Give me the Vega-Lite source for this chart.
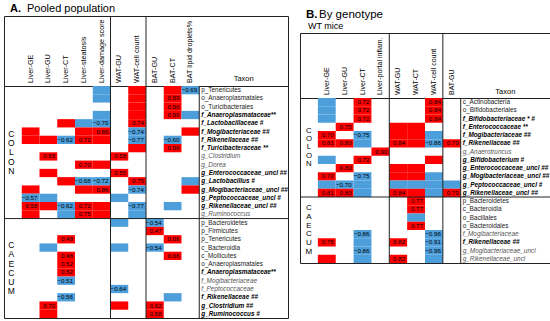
{
  "$schema": "https://vega.github.io/schema/vega-lite/v6.json",
  "padding": {"left": 3, "top": 0, "right": 0, "bottom": 0},
  "background": "white",
  "config": {"view": {"stroke": null}, "text": {"font": "Liberation Sans"}},
  "spacing": 10,
  "datasets": {
    "colsA": [
      {"v": "GE", "name": "Liver-GE"}, {"v": "GU", "name": "Liver-GU"}, {"v": "CT", "name": "Liver-CT"},
      {"v": "ST", "name": "Liver-steatosis"}, {"v": "DS", "name": "Liver-damage score"}, {"v": "WG", "name": "WAT-GU"},
      {"v": "WC", "name": "WAT-cell count"}, {"v": "BG", "name": "BAT-GU"}, {"v": "BC", "name": "BAT-CT"},
      {"v": "BL", "name": "BAT lipid droplets%"}
    ],
    "colsB": [
      {"v": "GE", "name": "Liver-GE"}, {"v": "GU", "name": "Liver-GU"}, {"v": "CT", "name": "Liver-CT"},
      {"v": "PI", "name": "Liver-portal inflam."}, {"v": "WG", "name": "WAT-GU"}, {"v": "WT", "name": "WAT-CT"},
      {"v": "WC", "name": "WAT-cell count"}, {"v": "BG", "name": "BAT-GU"}
    ],
    "rowsA": [
      {"k": "C01", "taxon": "p_Tenericutes", "st": "n"},
      {"k": "C02", "taxon": "o_Anaeroplasmatales", "st": "n"},
      {"k": "C03", "taxon": "o_Turicibacterales", "st": "n"},
      {"k": "C04", "taxon": "f_Anaeroplasmataceae**", "st": "b"},
      {"k": "C05", "taxon": "f_Lactobacillaceae #", "st": "b"},
      {"k": "C06", "taxon": "f_Mogibacteriaceae ##", "st": "b"},
      {"k": "C07", "taxon": "f_Rikenellaceae ##", "st": "b"},
      {"k": "C08", "taxon": "f_Turicibacteraceae **", "st": "b"},
      {"k": "C09", "taxon": "g_Clostridium", "st": "i"},
      {"k": "C10", "taxon": "g_Dorea", "st": "i"},
      {"k": "C11", "taxon": "g_Enterococcaceae_uncl ##", "st": "b"},
      {"k": "C12", "taxon": "g_Lactobacillus #", "st": "b"},
      {"k": "C13", "taxon": "g_Mogibacteriaceae_uncl ##", "st": "b"},
      {"k": "C14", "taxon": "g_Peptococcaceae_uncl #", "st": "b"},
      {"k": "C15", "taxon": "g_Rikenellaceae_uncl ##", "st": "b"},
      {"k": "C16", "taxon": "g_Ruminococcus", "st": "i"},
      {"k": "K01", "taxon": "p_Bacteroidetes", "st": "n"},
      {"k": "K02", "taxon": "p_Firmicutes", "st": "n"},
      {"k": "K03", "taxon": "p_Tenericutes", "st": "n"},
      {"k": "K04", "taxon": "c_Bacteroidia", "st": "n"},
      {"k": "K05", "taxon": "c_Mollicutes", "st": "n"},
      {"k": "K06", "taxon": "o_Anaeroplasmatales", "st": "n"},
      {"k": "K07", "taxon": "f_Anaeroplasmataceae**", "st": "b"},
      {"k": "K08", "taxon": "f_Mogibacteriaceae", "st": "i"},
      {"k": "K09", "taxon": "f_Peptococcaceae", "st": "i"},
      {"k": "K10", "taxon": "f_Rikenellaceae ##", "st": "b"},
      {"k": "K11", "taxon": "g_Clostridium ##", "st": "b"},
      {"k": "K12", "taxon": "g_Ruminococcus #", "st": "b"}
    ],
    "rowsB": [
      {"k": "C01", "taxon": "c_Actinobacteria", "st": "n"},
      {"k": "C02", "taxon": "o_Bifidobacteriales", "st": "n"},
      {"k": "C03", "taxon": "f_Bifidobacteriaceae * #", "st": "b"},
      {"k": "C04", "taxon": "f_Enterococcaceae **", "st": "b"},
      {"k": "C05", "taxon": "f_Mogibacteriaceae ##", "st": "b"},
      {"k": "C06", "taxon": "f_Rikenellaceae ##", "st": "b"},
      {"k": "C07", "taxon": "g_Anaerotruncus", "st": "i"},
      {"k": "C08", "taxon": "g_Bifidobacterium #", "st": "b"},
      {"k": "C09", "taxon": "g_Enterococcaceae_uncl ##", "st": "b"},
      {"k": "C10", "taxon": "g_Mogibacteriaceae_uncl ##", "st": "b"},
      {"k": "C11", "taxon": "g_Peptococcaceae_uncl #", "st": "b"},
      {"k": "C12", "taxon": "g_Rikenellaceae_uncl ##", "st": "b"},
      {"k": "K01", "taxon": "p_Bacteroidetes", "st": "n"},
      {"k": "K02", "taxon": "c_Bacteroidia", "st": "n"},
      {"k": "K03", "taxon": "o_Bacillales", "st": "n"},
      {"k": "K04", "taxon": "o_Bacteroidales", "st": "n"},
      {"k": "K05", "taxon": "f_Mogibacteriaceae", "st": "i"},
      {"k": "K06", "taxon": "f_Rikenellaceae ##", "st": "b"},
      {"k": "K07", "taxon": "g_Mogibacteriaceae_uncl", "st": "i"},
      {"k": "K08", "taxon": "g_Rikenellaceae_uncl", "st": "i"}
    ],
    "secA": [
      {"sec": "COLON", "mid": "C09", "txt": "C\nO\nL\nO\nN"},
      {"sec": "CAECUM", "mid": "K07", "txt": "C\nA\nE\nC\nU\nM"}
    ],
    "secB": [
      {"sec": "COLON", "mid": "C07", "txt": "C\nO\nL\nO\nN"},
      {"sec": "CAECUM", "mid": "K05", "txt": "C\nA\nE\nC\nU\nM"}
    ],
    "cellsA": [
      {"k": "C01", "v": "DS", "s": "-"}, {"k": "C01", "v": "WC", "s": "+"}, {"k": "C01", "v": "BC", "s": "+"}, {"k": "C01", "v": "BL", "s": "-", "r": -0.69},
      {"k": "C02", "v": "DS", "s": "-"}, {"k": "C02", "v": "WC", "s": "+"}, {"k": "C02", "v": "BC", "s": "+", "r": 0.59},
      {"k": "C03", "v": "WC", "s": "+"}, {"k": "C03", "v": "BC", "s": "+", "r": 0.56},
      {"k": "C04", "v": "DS", "s": "-"}, {"k": "C04", "v": "WC", "s": "+"}, {"k": "C04", "v": "BC", "s": "+", "r": 0.59}, {"k": "C04", "v": "BL", "s": "-"},
      {"k": "C05", "v": "CT", "s": "+"}, {"k": "C05", "v": "ST", "s": "-"}, {"k": "C05", "v": "DS", "s": "-", "r": -0.70}, {"k": "C05", "v": "WC", "s": "+", "r": 0.74},
      {"k": "C06", "v": "GE", "s": "+"}, {"k": "C06", "v": "ST", "s": "+"}, {"k": "C06", "v": "DS", "s": "+", "r": 0.86}, {"k": "C06", "v": "WC", "s": "-", "r": -0.74}, {"k": "C06", "v": "BL", "s": "+"},
      {"k": "C07", "v": "GE", "s": "+"}, {"k": "C07", "v": "GU", "s": "+"}, {"k": "C07", "v": "CT", "s": "-", "r": -0.62}, {"k": "C07", "v": "ST", "s": "+", "r": 0.72}, {"k": "C07", "v": "DS", "s": "+"}, {"k": "C07", "v": "WC", "s": "-", "r": -0.77}, {"k": "C07", "v": "BC", "s": "-", "r": -0.60},
      {"k": "C08", "v": "WC", "s": "+"}, {"k": "C08", "v": "BC", "s": "+", "r": 0.56},
      {"k": "C09", "v": "GU", "s": "+", "r": 0.65}, {"k": "C09", "v": "WG", "s": "+", "r": 0.58},
      {"k": "C10", "v": "ST", "s": "+", "r": 0.70}, {"k": "C10", "v": "DS", "s": "+"},
      {"k": "C11", "v": "GU", "s": "+"}, {"k": "C11", "v": "WG", "s": "+", "r": 0.55},
      {"k": "C12", "v": "CT", "s": "+"}, {"k": "C12", "v": "ST", "s": "-", "r": -0.68}, {"k": "C12", "v": "DS", "s": "-", "r": -0.72}, {"k": "C12", "v": "WC", "s": "+", "r": 0.75}, {"k": "C12", "v": "BL", "s": "-"},
      {"k": "C13", "v": "GE", "s": "+"}, {"k": "C13", "v": "ST", "s": "+"}, {"k": "C13", "v": "DS", "s": "+", "r": 0.86}, {"k": "C13", "v": "WC", "s": "-", "r": -0.74}, {"k": "C13", "v": "BL", "s": "+"},
      {"k": "C14", "v": "GE", "s": "-", "r": -0.57}, {"k": "C14", "v": "GU", "s": "-"}, {"k": "C14", "v": "WG", "s": "-"},
      {"k": "C15", "v": "GE", "s": "+", "r": 0.58}, {"k": "C15", "v": "GU", "s": "+"}, {"k": "C15", "v": "CT", "s": "-", "r": -0.62}, {"k": "C15", "v": "ST", "s": "+", "r": 0.72}, {"k": "C15", "v": "DS", "s": "+"}, {"k": "C15", "v": "WC", "s": "-", "r": -0.77}, {"k": "C15", "v": "BC", "s": "-"},
      {"k": "C16", "v": "GE", "s": "+"}, {"k": "C16", "v": "CT", "s": "-"}, {"k": "C16", "v": "ST", "s": "+", "r": 0.75}, {"k": "C16", "v": "DS", "s": "+"}, {"k": "C16", "v": "WC", "s": "-"},
      {"k": "K01", "v": "WG", "s": "-"}, {"k": "K01", "v": "BG", "s": "-", "r": -0.54},
      {"k": "K02", "v": "BG", "s": "+", "r": 0.47},
      {"k": "K03", "v": "CT", "s": "+", "r": 0.48}, {"k": "K03", "v": "BC", "s": "+", "r": 0.66},
      {"k": "K04", "v": "GU", "s": "-"}, {"k": "K04", "v": "WG", "s": "-"}, {"k": "K04", "v": "BG", "s": "-", "r": -0.54},
      {"k": "K05", "v": "CT", "s": "+", "r": 0.48}, {"k": "K05", "v": "BC", "s": "+", "r": 0.66},
      {"k": "K06", "v": "CT", "s": "+", "r": 0.52},
      {"k": "K07", "v": "CT", "s": "+", "r": 0.52},
      {"k": "K08", "v": "CT", "s": "-", "r": -0.51},
      {"k": "K09", "v": "WG", "s": "-", "r": -0.64},
      {"k": "K10", "v": "CT", "s": "-", "r": -0.56}, {"k": "K10", "v": "BC", "s": "-"},
      {"k": "K11", "v": "GU", "s": "+", "r": 0.70}, {"k": "K11", "v": "WG", "s": "+"}, {"k": "K11", "v": "BG", "s": "+", "r": 0.62},
      {"k": "K12", "v": "GU", "s": "+"}, {"k": "K12", "v": "BG", "s": "+", "r": 0.58}
    ],
    "cellsB": [
      {"k": "C01", "v": "GE", "s": "-"}, {"k": "C01", "v": "CT", "s": "+", "r": 0.72}, {"k": "C01", "v": "WC", "s": "+", "r": 0.84},
      {"k": "C02", "v": "GE", "s": "-"}, {"k": "C02", "v": "CT", "s": "+", "r": 0.72}, {"k": "C02", "v": "WC", "s": "+", "r": 0.84},
      {"k": "C03", "v": "GE", "s": "-"}, {"k": "C03", "v": "CT", "s": "+", "r": 0.72}, {"k": "C03", "v": "WC", "s": "+", "r": 0.84},
      {"k": "C04", "v": "GU", "s": "+", "r": 0.75}, {"k": "C04", "v": "WG", "s": "+"}, {"k": "C04", "v": "WT", "s": "+"},
      {"k": "C05", "v": "GE", "s": "+", "r": 0.70}, {"k": "C05", "v": "CT", "s": "-", "r": -0.75}, {"k": "C05", "v": "WG", "s": "+"}, {"k": "C05", "v": "WT", "s": "+"}, {"k": "C05", "v": "WC", "s": "-"},
      {"k": "C06", "v": "GE", "s": "+", "r": 0.81}, {"k": "C06", "v": "GU", "s": "+", "r": 0.80}, {"k": "C06", "v": "CT", "s": "-"}, {"k": "C06", "v": "WG", "s": "+", "r": 0.84}, {"k": "C06", "v": "WT", "s": "+"}, {"k": "C06", "v": "WC", "s": "-", "r": -0.86}, {"k": "C06", "v": "BG", "s": "+", "r": 0.79},
      {"k": "C07", "v": "PI", "s": "+", "r": 0.90},
      {"k": "C08", "v": "GE", "s": "-"}, {"k": "C08", "v": "CT", "s": "+", "r": 0.72}, {"k": "C08", "v": "WC", "s": "+"},
      {"k": "C09", "v": "GU", "s": "+", "r": 0.80}, {"k": "C09", "v": "WG", "s": "+"}, {"k": "C09", "v": "WT", "s": "+"},
      {"k": "C10", "v": "GE", "s": "+", "r": 0.70}, {"k": "C10", "v": "CT", "s": "-", "r": -0.75}, {"k": "C10", "v": "WG", "s": "+"}, {"k": "C10", "v": "WT", "s": "+"}, {"k": "C10", "v": "WC", "s": "-"},
      {"k": "C11", "v": "GE", "s": "-"}, {"k": "C11", "v": "GU", "s": "-", "r": -0.70}, {"k": "C11", "v": "CT", "s": "-"}, {"k": "C11", "v": "WG", "s": "-"}, {"k": "C11", "v": "WT", "s": "-"}, {"k": "C11", "v": "WC", "s": "-"}, {"k": "C11", "v": "BG", "s": "-"},
      {"k": "C12", "v": "GE", "s": "+", "r": 0.81}, {"k": "C12", "v": "GU", "s": "+", "r": 0.80}, {"k": "C12", "v": "CT", "s": "-"}, {"k": "C12", "v": "WG", "s": "+", "r": 0.84}, {"k": "C12", "v": "WT", "s": "+"}, {"k": "C12", "v": "WC", "s": "-"}, {"k": "C12", "v": "BG", "s": "+", "r": 0.79},
      {"k": "K01", "v": "WT", "s": "+", "r": 0.77},
      {"k": "K02", "v": "WT", "s": "+", "r": 0.77},
      {"k": "K03", "v": "WT", "s": "-"},
      {"k": "K04", "v": "WT", "s": "+", "r": 0.77},
      {"k": "K05", "v": "CT", "s": "-", "r": -0.86}, {"k": "K05", "v": "WC", "s": "-", "r": -0.96},
      {"k": "K06", "v": "GE", "s": "+", "r": 0.75}, {"k": "K06", "v": "CT", "s": "-"}, {"k": "K06", "v": "WG", "s": "+", "r": 0.82}, {"k": "K06", "v": "WC", "s": "-", "r": -0.91},
      {"k": "K07", "v": "CT", "s": "-", "r": -0.86}, {"k": "K07", "v": "WC", "s": "-", "r": -0.96},
      {"k": "K08", "v": "GE", "s": "+"}, {"k": "K08", "v": "CT", "s": "-"}, {"k": "K08", "v": "WG", "s": "+", "r": 0.82}, {"k": "K08", "v": "WC", "s": "-"}
    ]
  },
  "hconcat": [
    {
      "vconcat": [
        {
          "width": 284, "height": 16,
          "data": {"values": [{"a": "A.", "b": "Pooled population"}]},
          "layer": [
            {"mark": {"type": "text", "align": "left", "baseline": "middle", "fontWeight": "bold", "fontSize": 11, "dx": 6, "dy": 1},
             "encoding": {"x": {"datum": 0, "type": "quantitative", "scale": {"domain": [0, 1]}, "axis": null}, "text": {"field": "a"}}},
            {"mark": {"type": "text", "align": "left", "baseline": "middle", "fontSize": 11, "dx": 23, "dy": 1},
             "encoding": {"x": {"datum": 0, "type": "quantitative", "scale": {"domain": [0, 1]}, "axis": null}, "text": {"field": "b"}}}
          ]
        },
        {
          "width": 284, "height": 70,
          "view": {"stroke": "#222"},
          "layer": [
            {"data": {"name": "colsA"},
             "mark": {"type": "text", "angle": 270, "align": "left", "baseline": "middle", "fontSize": 7.2, "dx": 3},
             "encoding": {
               "x": {"field": "v", "type": "nominal", "axis": null, "scale": {"type": "band", "domain": ["sec", "GE", "GU", "CT", "ST", "DS", "WG", "WC", "BG", "BC", "BL", "T1", "T2", "T3", "T4", "T5"], "paddingInner": 0, "paddingOuter": 0}},
               "y": {"datum": 0, "type": "quantitative", "scale": {"domain": [0, 1]}, "axis": null},
               "text": {"field": "name"}}},
            {"data": {"values": [{"t": "Taxon"}]},
             "mark": {"type": "text", "align": "center", "baseline": "bottom", "fontSize": 7.5, "dy": -3},
             "encoding": {
               "x": {"datum": "T3", "type": "nominal", "axis": null, "scale": {"type": "band", "domain": ["sec", "GE", "GU", "CT", "ST", "DS", "WG", "WC", "BG", "BC", "BL", "T1", "T2", "T3", "T4", "T5"], "paddingInner": 0, "paddingOuter": 0}},
               "y": {"datum": 0, "type": "quantitative", "scale": {"domain": [0, 1]}, "axis": null},
               "text": {"field": "t"}}},
            {"data": {"values": [{"b": "WG"}, {"b": "BG"}]},
             "mark": {"type": "rule", "color": "#222", "strokeWidth": 1},
             "encoding": {
               "x": {"field": "b", "type": "nominal", "bandPosition": 0, "axis": null, "scale": {"type": "band", "domain": ["sec", "GE", "GU", "CT", "ST", "DS", "WG", "WC", "BG", "BC", "BL", "T1", "T2", "T3", "T4", "T5"], "paddingInner": 0, "paddingOuter": 0}}}}
          ]
        },
        {
          "width": 284, "height": 232,
          "view": {"stroke": "#222"},
          "layer": [
            {"data": {"name": "cellsA"},
             "mark": {"type": "rect"},
             "encoding": {
               "x": {"field": "v", "type": "nominal", "axis": null, "scale": {"type": "band", "domain": ["sec", "GE", "GU", "CT", "ST", "DS", "WG", "WC", "BG", "BC", "BL", "T1", "T2", "T3", "T4", "T5"], "paddingInner": 0, "paddingOuter": 0}},
               "y": {"field": "k", "type": "nominal", "axis": null, "scale": {"type": "band", "domain": ["C01", "C02", "C03", "C04", "C05", "C06", "C07", "C08", "C09", "C10", "C11", "C12", "C13", "C14", "C15", "C16", "K01", "K02", "K03", "K04", "K05", "K06", "K07", "K08", "K09", "K10", "K11", "K12"], "paddingInner": 0, "paddingOuter": 0}},
               "color": {"field": "s", "type": "nominal", "legend": null, "scale": {"domain": ["+", "-"], "range": ["#ff0000", "#4d9fdc"]}}}},
            {"data": {"name": "cellsA"},
             "transform": [{"filter": "isValid(datum.r)"}],
             "mark": {"type": "text", "align": "right", "baseline": "middle", "fontSize": 6.2, "dx": -2, "color": "#000"},
             "encoding": {
               "x": {"field": "v", "type": "nominal", "bandPosition": 1, "axis": null, "scale": {"type": "band", "domain": ["sec", "GE", "GU", "CT", "ST", "DS", "WG", "WC", "BG", "BC", "BL", "T1", "T2", "T3", "T4", "T5"], "paddingInner": 0, "paddingOuter": 0}},
               "y": {"field": "k", "type": "nominal", "axis": null, "scale": {"type": "band", "domain": ["C01", "C02", "C03", "C04", "C05", "C06", "C07", "C08", "C09", "C10", "C11", "C12", "C13", "C14", "C15", "C16", "K01", "K02", "K03", "K04", "K05", "K06", "K07", "K08", "K09", "K10", "K11", "K12"], "paddingInner": 0, "paddingOuter": 0}},
               "text": {"field": "r", "type": "quantitative", "format": ".2f"}}},
            {"data": {"name": "rowsA"},
             "transform": [{"filter": "datum.st == 'n'"}],
             "mark": {"type": "text", "align": "left", "baseline": "middle", "fontSize": 6.4, "dx": 2, "color": "#222"},
             "encoding": {
               "x": {"datum": "T1", "type": "nominal", "bandPosition": 0, "axis": null, "scale": {"type": "band", "domain": ["sec", "GE", "GU", "CT", "ST", "DS", "WG", "WC", "BG", "BC", "BL", "T1", "T2", "T3", "T4", "T5"], "paddingInner": 0, "paddingOuter": 0}},
               "y": {"field": "k", "type": "nominal", "axis": null, "scale": {"type": "band", "domain": ["C01", "C02", "C03", "C04", "C05", "C06", "C07", "C08", "C09", "C10", "C11", "C12", "C13", "C14", "C15", "C16", "K01", "K02", "K03", "K04", "K05", "K06", "K07", "K08", "K09", "K10", "K11", "K12"], "paddingInner": 0, "paddingOuter": 0}},
               "text": {"field": "taxon"}}},
            {"data": {"name": "rowsA"},
             "transform": [{"filter": "datum.st == 'i'"}],
             "mark": {"type": "text", "align": "left", "baseline": "middle", "fontSize": 6.4, "dx": 2, "fontStyle": "italic", "color": "#555"},
             "encoding": {
               "x": {"datum": "T1", "type": "nominal", "bandPosition": 0, "axis": null, "scale": {"type": "band", "domain": ["sec", "GE", "GU", "CT", "ST", "DS", "WG", "WC", "BG", "BC", "BL", "T1", "T2", "T3", "T4", "T5"], "paddingInner": 0, "paddingOuter": 0}},
               "y": {"field": "k", "type": "nominal", "axis": null, "scale": {"type": "band", "domain": ["C01", "C02", "C03", "C04", "C05", "C06", "C07", "C08", "C09", "C10", "C11", "C12", "C13", "C14", "C15", "C16", "K01", "K02", "K03", "K04", "K05", "K06", "K07", "K08", "K09", "K10", "K11", "K12"], "paddingInner": 0, "paddingOuter": 0}},
               "text": {"field": "taxon"}}},
            {"data": {"name": "rowsA"},
             "transform": [{"filter": "datum.st == 'b'"}],
             "mark": {"type": "text", "align": "left", "baseline": "middle", "fontSize": 6.4, "dx": 2, "fontStyle": "italic", "fontWeight": "bold", "color": "#000"},
             "encoding": {
               "x": {"datum": "T1", "type": "nominal", "bandPosition": 0, "axis": null, "scale": {"type": "band", "domain": ["sec", "GE", "GU", "CT", "ST", "DS", "WG", "WC", "BG", "BC", "BL", "T1", "T2", "T3", "T4", "T5"], "paddingInner": 0, "paddingOuter": 0}},
               "y": {"field": "k", "type": "nominal", "axis": null, "scale": {"type": "band", "domain": ["C01", "C02", "C03", "C04", "C05", "C06", "C07", "C08", "C09", "C10", "C11", "C12", "C13", "C14", "C15", "C16", "K01", "K02", "K03", "K04", "K05", "K06", "K07", "K08", "K09", "K10", "K11", "K12"], "paddingInner": 0, "paddingOuter": 0}},
               "text": {"field": "taxon"}}},
            {"data": {"name": "secA"},
             "transform": [{"filter": "datum.sec == 'COLON'"}],
             "mark": {"type": "text", "align": "center", "baseline": "middle", "fontSize": 8.5, "lineHeight": 9.3, "lineBreak": "\n", "color": "#000", "dy": -18.6, "dx": -1.5},
             "encoding": {
               "x": {"datum": "sec", "type": "nominal", "axis": null, "scale": {"type": "band", "domain": ["sec", "GE", "GU", "CT", "ST", "DS", "WG", "WC", "BG", "BC", "BL", "T1", "T2", "T3", "T4", "T5"], "paddingInner": 0, "paddingOuter": 0}},
               "y": {"field": "mid", "type": "nominal", "bandPosition": 0, "axis": null, "scale": {"type": "band", "domain": ["C01", "C02", "C03", "C04", "C05", "C06", "C07", "C08", "C09", "C10", "C11", "C12", "C13", "C14", "C15", "C16", "K01", "K02", "K03", "K04", "K05", "K06", "K07", "K08", "K09", "K10", "K11", "K12"], "paddingInner": 0, "paddingOuter": 0}},
               "text": {"field": "txt"}}},
            {"data": {"name": "secA"},
             "transform": [{"filter": "datum.sec == 'CAECUM'"}],
             "mark": {"type": "text", "align": "center", "baseline": "middle", "fontSize": 8.5, "lineHeight": 9.2, "lineBreak": "\n", "color": "#000", "dy": -23, "dx": -1.5},
             "encoding": {
               "x": {"datum": "sec", "type": "nominal", "axis": null, "scale": {"type": "band", "domain": ["sec", "GE", "GU", "CT", "ST", "DS", "WG", "WC", "BG", "BC", "BL", "T1", "T2", "T3", "T4", "T5"], "paddingInner": 0, "paddingOuter": 0}},
               "y": {"field": "mid", "type": "nominal", "bandPosition": 0, "axis": null, "scale": {"type": "band", "domain": ["C01", "C02", "C03", "C04", "C05", "C06", "C07", "C08", "C09", "C10", "C11", "C12", "C13", "C14", "C15", "C16", "K01", "K02", "K03", "K04", "K05", "K06", "K07", "K08", "K09", "K10", "K11", "K12"], "paddingInner": 0, "paddingOuter": 0}},
               "text": {"field": "txt"}}},
            {"data": {"values": [{"b": "WG"}, {"b": "BG"}, {"b": "T1"}]},
             "mark": {"type": "rule", "color": "#222", "strokeWidth": 1},
             "encoding": {
               "x": {"field": "b", "type": "nominal", "bandPosition": 0, "axis": null, "scale": {"type": "band", "domain": ["sec", "GE", "GU", "CT", "ST", "DS", "WG", "WC", "BG", "BC", "BL", "T1", "T2", "T3", "T4", "T5"], "paddingInner": 0, "paddingOuter": 0}}}},
            {"data": {"values": [{"b": "K01"}]},
             "mark": {"type": "rule", "color": "#222", "strokeWidth": 1},
             "encoding": {
               "y": {"field": "b", "type": "nominal", "bandPosition": 0, "axis": null, "scale": {"type": "band", "domain": ["C01", "C02", "C03", "C04", "C05", "C06", "C07", "C08", "C09", "C10", "C11", "C12", "C13", "C14", "C15", "C16", "K01", "K02", "K03", "K04", "K05", "K06", "K07", "K08", "K09", "K10", "K11", "K12"], "paddingInner": 0, "paddingOuter": 0}}}}
          ]
        }
      ],
      "spacing": 0,
      "bounds": "flush"
    },
    {
      "vconcat": [
        {
          "width": 250, "height": 33,
          "data": {"values": [{"a": "B.", "b": "By genotype", "c": "WT mice"}]},
          "layer": [
            {"mark": {"type": "text", "align": "left", "baseline": "middle", "fontWeight": "bold", "fontSize": 11.5, "dx": 6, "dy": -2},
             "encoding": {"x": {"datum": 0, "type": "quantitative", "scale": {"domain": [0, 1]}, "axis": null}, "text": {"field": "a"}}},
            {"mark": {"type": "text", "align": "left", "baseline": "middle", "fontSize": 11.5, "dx": 19, "dy": -2},
             "encoding": {"x": {"datum": 0, "type": "quantitative", "scale": {"domain": [0, 1]}, "axis": null}, "text": {"field": "b"}}},
            {"mark": {"type": "text", "align": "left", "baseline": "middle", "fontSize": 9, "dx": 8, "dy": 9},
             "encoding": {"x": {"datum": 0, "type": "quantitative", "scale": {"domain": [0, 1]}, "axis": null}, "text": {"field": "c"}}}
          ]
        },
        {
          "width": 250, "height": 65,
          "view": {"stroke": "#222"},
          "layer": [
            {"data": {"name": "colsB"},
             "mark": {"type": "text", "angle": 270, "align": "left", "baseline": "middle", "fontSize": 7, "dx": 3},
             "encoding": {
               "x": {"field": "v", "type": "nominal", "axis": null, "scale": {"type": "band", "domain": ["sec", "GE", "GU", "CT", "PI", "WG", "WT", "WC", "BG", "T1", "T2", "T3", "T4", "T5"], "paddingInner": 0, "paddingOuter": 0}},
               "y": {"datum": 0, "type": "quantitative", "scale": {"domain": [0, 1]}, "axis": null},
               "text": {"field": "name"}}},
            {"data": {"values": [{"t": "Taxon"}]},
             "mark": {"type": "text", "align": "center", "baseline": "bottom", "fontSize": 7.5, "dy": -2},
             "encoding": {
               "x": {"datum": "T3", "type": "nominal", "axis": null, "scale": {"type": "band", "domain": ["sec", "GE", "GU", "CT", "PI", "WG", "WT", "WC", "BG", "T1", "T2", "T3", "T4", "T5"], "paddingInner": 0, "paddingOuter": 0}},
               "y": {"datum": 0, "type": "quantitative", "scale": {"domain": [0, 1]}, "axis": null},
               "text": {"field": "t"}}},
            {"data": {"values": [{"b": "WG"}, {"b": "BG"}]},
             "mark": {"type": "rule", "color": "#222", "strokeWidth": 1},
             "encoding": {
               "x": {"field": "b", "type": "nominal", "bandPosition": 0, "axis": null, "scale": {"type": "band", "domain": ["sec", "GE", "GU", "CT", "PI", "WG", "WT", "WC", "BG", "T1", "T2", "T3", "T4", "T5"], "paddingInner": 0, "paddingOuter": 0}}}}
          ]
        },
        {
          "width": 250, "height": 165,
          "view": {"stroke": "#222"},
          "layer": [
            {"data": {"name": "cellsB"},
             "mark": {"type": "rect"},
             "encoding": {
               "x": {"field": "v", "type": "nominal", "axis": null, "scale": {"type": "band", "domain": ["sec", "GE", "GU", "CT", "PI", "WG", "WT", "WC", "BG", "T1", "T2", "T3", "T4", "T5"], "paddingInner": 0, "paddingOuter": 0}},
               "y": {"field": "k", "type": "nominal", "axis": null, "scale": {"type": "band", "domain": ["C01", "C02", "C03", "C04", "C05", "C06", "C07", "C08", "C09", "C10", "C11", "C12", "K01", "K02", "K03", "K04", "K05", "K06", "K07", "K08"], "paddingInner": 0, "paddingOuter": 0}},
               "color": {"field": "s", "type": "nominal", "legend": null, "scale": {"domain": ["+", "-"], "range": ["#ff0000", "#4d9fdc"]}}}},
            {"data": {"name": "cellsB"},
             "transform": [{"filter": "isValid(datum.r)"}],
             "mark": {"type": "text", "align": "right", "baseline": "middle", "fontSize": 6.2, "dx": -2, "color": "#000"},
             "encoding": {
               "x": {"field": "v", "type": "nominal", "bandPosition": 1, "axis": null, "scale": {"type": "band", "domain": ["sec", "GE", "GU", "CT", "PI", "WG", "WT", "WC", "BG", "T1", "T2", "T3", "T4", "T5"], "paddingInner": 0, "paddingOuter": 0}},
               "y": {"field": "k", "type": "nominal", "axis": null, "scale": {"type": "band", "domain": ["C01", "C02", "C03", "C04", "C05", "C06", "C07", "C08", "C09", "C10", "C11", "C12", "K01", "K02", "K03", "K04", "K05", "K06", "K07", "K08"], "paddingInner": 0, "paddingOuter": 0}},
               "text": {"field": "r", "type": "quantitative", "format": ".2f"}}},
            {"data": {"name": "rowsB"},
             "transform": [{"filter": "datum.st == 'n'"}],
             "mark": {"type": "text", "align": "left", "baseline": "middle", "fontSize": 6.4, "dx": 2, "color": "#222"},
             "encoding": {
               "x": {"datum": "T1", "type": "nominal", "bandPosition": 0, "axis": null, "scale": {"type": "band", "domain": ["sec", "GE", "GU", "CT", "PI", "WG", "WT", "WC", "BG", "T1", "T2", "T3", "T4", "T5"], "paddingInner": 0, "paddingOuter": 0}},
               "y": {"field": "k", "type": "nominal", "axis": null, "scale": {"type": "band", "domain": ["C01", "C02", "C03", "C04", "C05", "C06", "C07", "C08", "C09", "C10", "C11", "C12", "K01", "K02", "K03", "K04", "K05", "K06", "K07", "K08"], "paddingInner": 0, "paddingOuter": 0}},
               "text": {"field": "taxon"}}},
            {"data": {"name": "rowsB"},
             "transform": [{"filter": "datum.st == 'i'"}],
             "mark": {"type": "text", "align": "left", "baseline": "middle", "fontSize": 6.4, "dx": 2, "fontStyle": "italic", "color": "#555"},
             "encoding": {
               "x": {"datum": "T1", "type": "nominal", "bandPosition": 0, "axis": null, "scale": {"type": "band", "domain": ["sec", "GE", "GU", "CT", "PI", "WG", "WT", "WC", "BG", "T1", "T2", "T3", "T4", "T5"], "paddingInner": 0, "paddingOuter": 0}},
               "y": {"field": "k", "type": "nominal", "axis": null, "scale": {"type": "band", "domain": ["C01", "C02", "C03", "C04", "C05", "C06", "C07", "C08", "C09", "C10", "C11", "C12", "K01", "K02", "K03", "K04", "K05", "K06", "K07", "K08"], "paddingInner": 0, "paddingOuter": 0}},
               "text": {"field": "taxon"}}},
            {"data": {"name": "rowsB"},
             "transform": [{"filter": "datum.st == 'b'"}],
             "mark": {"type": "text", "align": "left", "baseline": "middle", "fontSize": 6.4, "dx": 2, "fontStyle": "italic", "fontWeight": "bold", "color": "#000"},
             "encoding": {
               "x": {"datum": "T1", "type": "nominal", "bandPosition": 0, "axis": null, "scale": {"type": "band", "domain": ["sec", "GE", "GU", "CT", "PI", "WG", "WT", "WC", "BG", "T1", "T2", "T3", "T4", "T5"], "paddingInner": 0, "paddingOuter": 0}},
               "y": {"field": "k", "type": "nominal", "axis": null, "scale": {"type": "band", "domain": ["C01", "C02", "C03", "C04", "C05", "C06", "C07", "C08", "C09", "C10", "C11", "C12", "K01", "K02", "K03", "K04", "K05", "K06", "K07", "K08"], "paddingInner": 0, "paddingOuter": 0}},
               "text": {"field": "taxon"}}},
            {"data": {"name": "secB"},
             "transform": [{"filter": "datum.sec == 'COLON'"}],
             "mark": {"type": "text", "align": "center", "baseline": "middle", "fontSize": 7.8, "lineHeight": 8.4, "lineBreak": "\n", "color": "#000", "dy": -16.8},
             "encoding": {
               "x": {"datum": "sec", "type": "nominal", "axis": null, "scale": {"type": "band", "domain": ["sec", "GE", "GU", "CT", "PI", "WG", "WT", "WC", "BG", "T1", "T2", "T3", "T4", "T5"], "paddingInner": 0, "paddingOuter": 0}},
               "y": {"field": "mid", "type": "nominal", "bandPosition": 0, "axis": null, "scale": {"type": "band", "domain": ["C01", "C02", "C03", "C04", "C05", "C06", "C07", "C08", "C09", "C10", "C11", "C12", "K01", "K02", "K03", "K04", "K05", "K06", "K07", "K08"], "paddingInner": 0, "paddingOuter": 0}},
               "text": {"field": "txt"}}},
            {"data": {"name": "secB"},
             "transform": [{"filter": "datum.sec == 'CAECUM'"}],
             "mark": {"type": "text", "align": "center", "baseline": "middle", "fontSize": 8, "lineHeight": 8.8, "lineBreak": "\n", "color": "#000", "dy": -22},
             "encoding": {
               "x": {"datum": "sec", "type": "nominal", "axis": null, "scale": {"type": "band", "domain": ["sec", "GE", "GU", "CT", "PI", "WG", "WT", "WC", "BG", "T1", "T2", "T3", "T4", "T5"], "paddingInner": 0, "paddingOuter": 0}},
               "y": {"field": "mid", "type": "nominal", "bandPosition": 0, "axis": null, "scale": {"type": "band", "domain": ["C01", "C02", "C03", "C04", "C05", "C06", "C07", "C08", "C09", "C10", "C11", "C12", "K01", "K02", "K03", "K04", "K05", "K06", "K07", "K08"], "paddingInner": 0, "paddingOuter": 0}},
               "text": {"field": "txt"}}},
            {"data": {"values": [{"b": "WG"}, {"b": "BG"}, {"b": "T1"}]},
             "mark": {"type": "rule", "color": "#222", "strokeWidth": 1},
             "encoding": {
               "x": {"field": "b", "type": "nominal", "bandPosition": 0, "axis": null, "scale": {"type": "band", "domain": ["sec", "GE", "GU", "CT", "PI", "WG", "WT", "WC", "BG", "T1", "T2", "T3", "T4", "T5"], "paddingInner": 0, "paddingOuter": 0}}}},
            {"data": {"values": [{"b": "K01"}]},
             "mark": {"type": "rule", "color": "#222", "strokeWidth": 1},
             "encoding": {
               "y": {"field": "b", "type": "nominal", "bandPosition": 0, "axis": null, "scale": {"type": "band", "domain": ["C01", "C02", "C03", "C04", "C05", "C06", "C07", "C08", "C09", "C10", "C11", "C12", "K01", "K02", "K03", "K04", "K05", "K06", "K07", "K08"], "paddingInner": 0, "paddingOuter": 0}}}}
          ]
        }
      ],
      "spacing": 0,
      "bounds": "flush"
    }
  ]
}
